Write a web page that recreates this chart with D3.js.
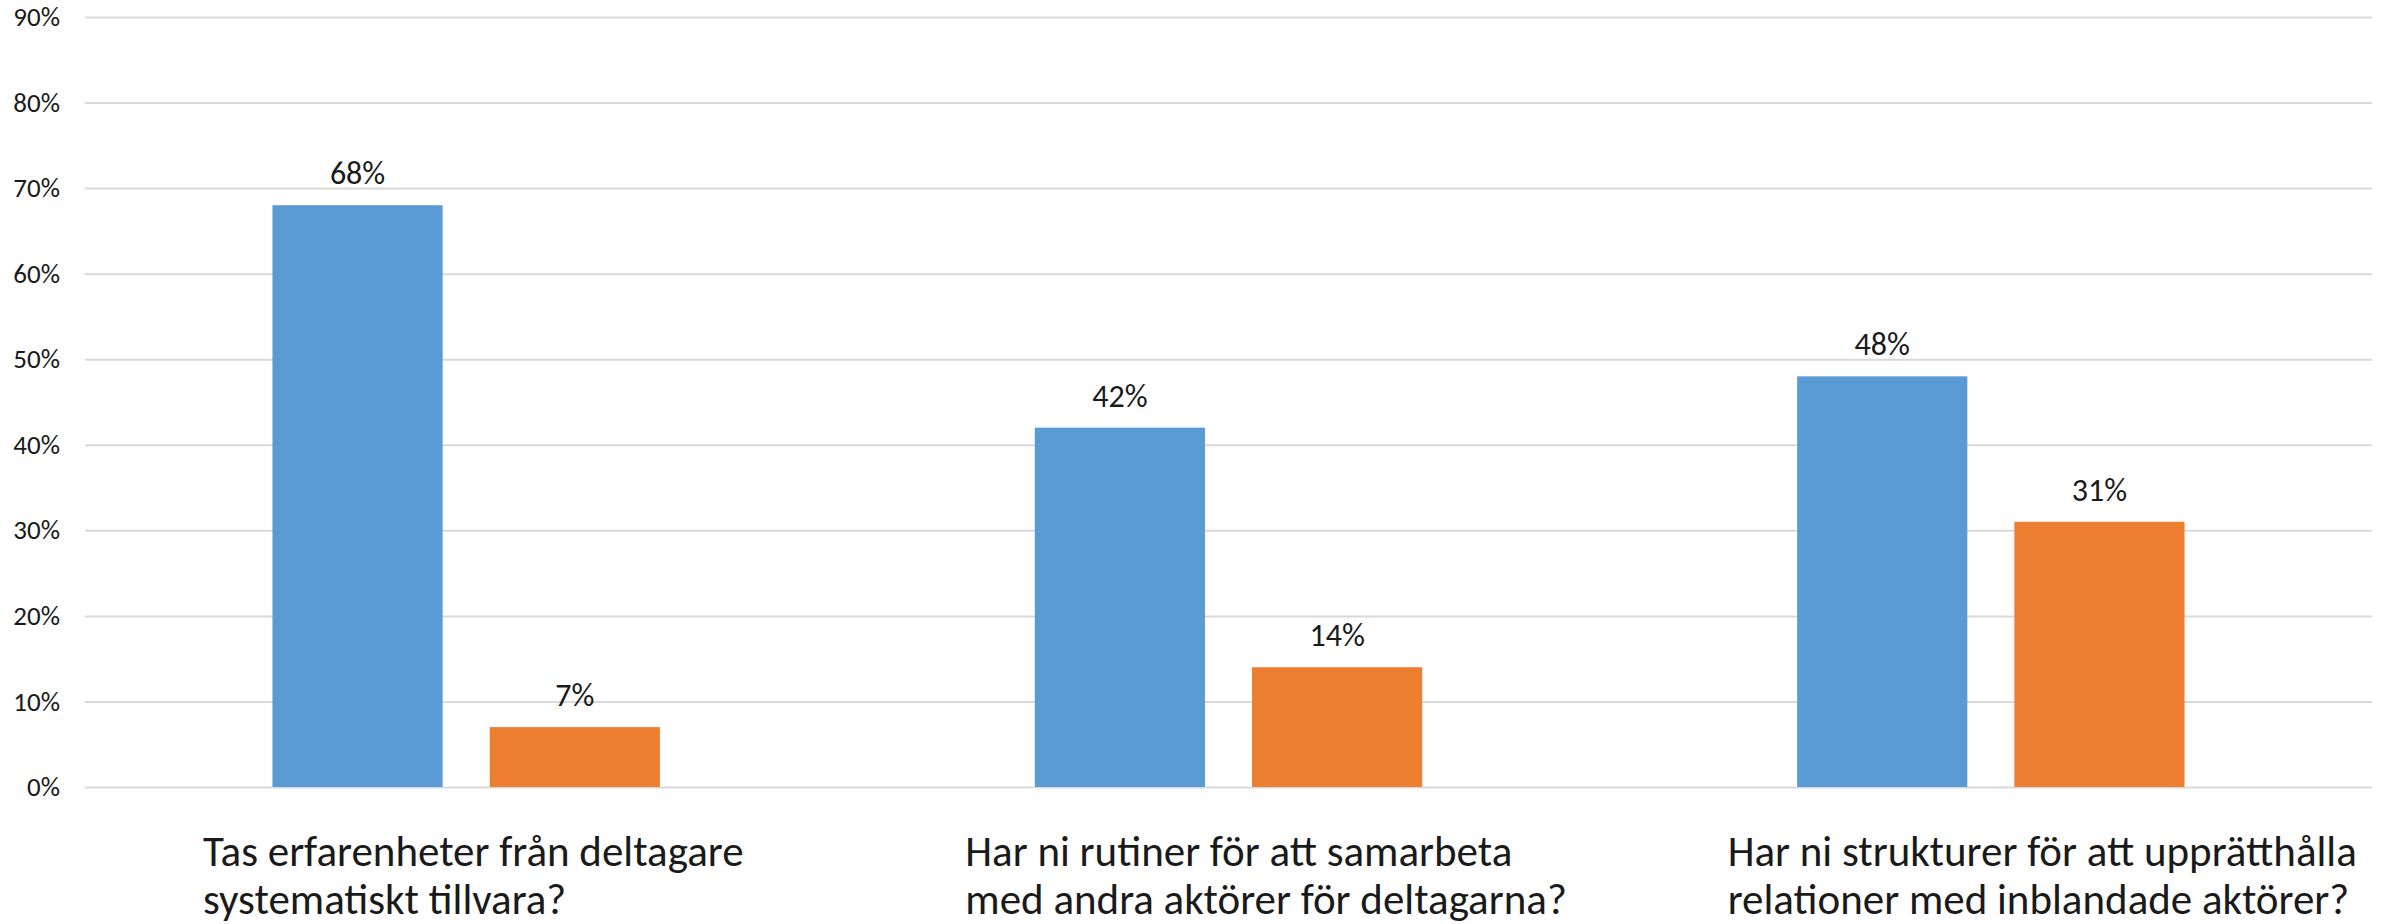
<!DOCTYPE html>
<html>
<head>
<meta charset="utf-8">
<script src="https://cdn.jsdelivr.net/npm/d3@7"></script>
<style>
  body { margin: 0; background: #fff; }
  text { font-family: Carlito, Calibri, Lato, sans-serif; fill: #1a1a1a; }
  .grid line { stroke: #d9d9d9; stroke-width: 2; }
</style>
</head>
<body>
<div id="chart"></div>
<script>
// data
var categories = ["q1", "q2", "q3"];
var categoryLines = [
	["Tas erfarenheter från deltagare", "systematiskt tillvara?"],
	["Har ni rutiner för att samarbeta", "med andra aktörer för deltagarna?"],
	["Har ni strukturer för att upprätthålla", "relationer med inblandade aktörer?"]
];
var seriesNames = ["a", "b"];
var seriesA = [0.68, 0.42, 0.48];
var seriesB = [0.07, 0.14, 0.31];
var yTicks = [0, 0.1, 0.2, 0.3, 0.4, 0.5, 0.6, 0.7, 0.8, 0.9];
var colors = ["#5b9bd5", "#ed7d31"];

var svgWidth = 2382;
var svgHeight = 924;

var margin = {
	top: 17,
	right: 10,
	bottom: 137,
	left: 85
};

var width = svgWidth - margin.left - margin.right;
var height = svgHeight - margin.top - margin.bottom;

var svg = d3.select("#chart")
	.append("svg")
	.attr("width", svgWidth)
	.attr("height", svgHeight);

var chartGroup = svg.append("g")
	.attr("transform", `translate(${margin.left}, ${margin.top})`);

// build rows from the arrays
var rows = categories.map(function(c, i) {
	return { cat: c, lines: categoryLines[i], values: [seriesA[i], seriesB[i]] };
});

// scales
var x0 = d3.scaleBand()
	.domain(categories)
	.range([0, width])
	.padding(0);

var x1 = d3.scaleBand()
	.domain(seriesNames)
	.range([0, x0.bandwidth()])
	.paddingInner(0.2166)
	.paddingOuter(0.863);

var y = d3.scaleLinear()
	.domain([0, 0.9])
	.range([height, 0]);

// gridlines + y labels
var leftAxis = d3.axisLeft(y)
	.tickValues(yTicks)
	.tickSize(-width)
	.tickPadding(25)
	.tickFormat(d3.format(".0%"));

chartGroup.append("g")
	.attr("class", "grid")
	.call(leftAxis)
	.call(g => g.select(".domain").remove())
	.selectAll("text")
	.style("font-size", "27px")
	.attr("fill", "#1a1a1a");

// bars
var groups = chartGroup.selectAll(".cat")
	.data(rows)
	.enter()
	.append("g")
	.attr("class", "cat")
	.attr("transform", d => `translate(${x0(d.cat)}, 0)`);

groups.selectAll("rect")
	.data(d => d.values.map((v, i) => ({ key: seriesNames[i], value: v, i: i })))
	.enter()
	.append("rect")
	.attr("x", d => x1(d.key))
	.attr("y", d => y(d.value))
	.attr("width", x1.bandwidth())
	.attr("height", d => height - y(d.value))
	.attr("fill", d => colors[d.i]);

// value labels
groups.selectAll(".val")
	.data(d => d.values.map((v, i) => ({ key: seriesNames[i], value: v })))
	.enter()
	.append("text")
	.attr("class", "val")
	.attr("x", d => x1(d.key) + x1.bandwidth() / 2)
	.attr("y", d => y(d.value) - 21)
	.attr("text-anchor", "middle")
	.style("font-size", "32px")
	.text(d => d3.format(".0%")(d.value));

// category labels (two lines, left aligned)
var catText = groups.append("text")
	.attr("class", "cat-label")
	.attr("y", height + 79)
	.style("font-size", "43px");

catText.selectAll("tspan")
	.data(d => d.lines)
	.enter()
	.append("tspan")
	.attr("x", 118)
	.attr("dy", (d, i) => i === 0 ? 0 : 48)
	.text(d => d);
</script>
</body>
</html>
